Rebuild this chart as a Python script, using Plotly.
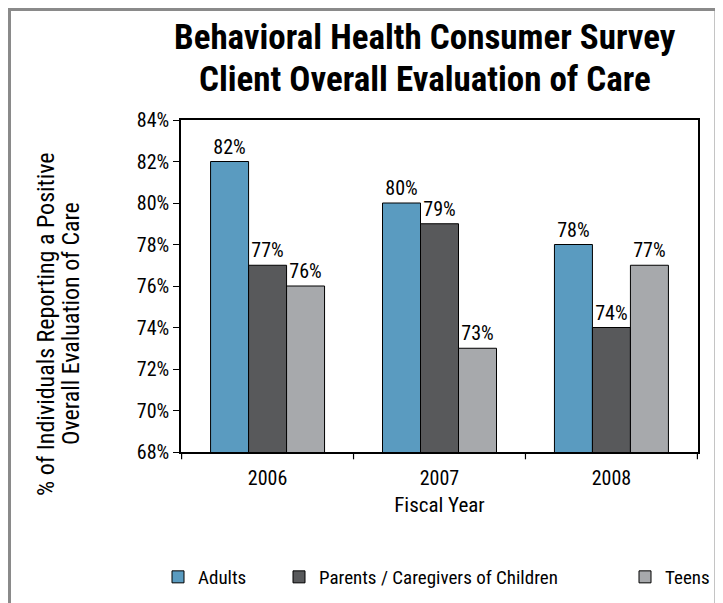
import plotly.graph_objects as go

years = ["2006", "2007", "2008"]
series_names = ["Adults", "Parents / Caregivers of Children", "Teens"]
adults = [82, 80, 78]
parents = [77, 79, 74]
teens = [76, 73, 77]
colors = ["#5A9BC0", "#58595B", "#A7A9AC"]
y_ticks = [68, 70, 72, 74, 76, 78, 80, 82, 84]
y_tick_labels = [f"{v}%" for v in y_ticks]
title_lines = ["Behavioral Health Consumer Survey", "Client Overall Evaluation of Care"]
y_title_lines = ["% of Individuals Reporting a Positive", "Overall Evaluation of Care"]

FONT = "Roboto Condensed"
values = [adults, parents, teens]
legends = ["legend", "legend2", "legend3"]

fig = go.Figure()
for name, vals, col, lg in zip(series_names, values, colors, legends):
    fig.add_trace(go.Bar(
        x=years, y=vals, name=name,
        marker=dict(color=col, line=dict(color="#000000", width=1)),
        text=[f"{v}%" for v in vals], textposition="outside",
        textfont=dict(family=FONT, size=20, color="#000000"),
        cliponaxis=False, legend=lg,
    ))

W, H = 723, 603
L, R, T, B = 173, 33, 112, 159
pw, ph = W - L - R, H - T - B

def px_x(p):
    return (p - L) / pw

def px_y(p):
    return (H - B - p) / ph

leg_common = dict(orientation="h", yanchor="middle", xanchor="left",
                  xref="container", yref="container",
                  font=dict(family=FONT, size=19, color="#000000"),
                  bgcolor="rgba(0,0,0,0)", itemwidth=30)

fig.update_layout(
    width=W, height=H,
    margin=dict(l=L, r=R, t=T, b=B, autoexpand=False),
    paper_bgcolor="white", plot_bgcolor="white",
    barmode="group", bargap=0.337, bargroupgap=0,
    font=dict(family=FONT, color="#000000"),
    xaxis=dict(title=dict(text="Fiscal Year", font=dict(family=FONT, size=21), standoff=9),
               tickfont=dict(family=FONT, size=20), ticklabelstandoff=7,
               showline=True, linecolor="#000000", linewidth=1.5, mirror=True,
               ticks="", showgrid=False),
    yaxis=dict(range=[68, 84], tickvals=y_ticks, ticktext=y_tick_labels,
               tickfont=dict(family=FONT, size=20),
               showline=True, linecolor="#000000", linewidth=1.5, mirror=True,
               ticks="outside", ticklen=6, tickcolor="#000000", showgrid=False),
    legend=dict(x=150 / W, y=1 - 569 / H, **leg_common),
    legend2=dict(x=271 / W, y=1 - 569 / H, **leg_common),
    legend3=dict(x=617 / W, y=1 - 569 / H, **leg_common),
    showlegend=True,
)

# title lines
for txt, yc in zip(title_lines, [29.5, 71]):
    fig.add_annotation(text=f"<b>{txt}</b>", xref="paper", yref="paper",
                       x=px_x(417), y=px_y(yc), xanchor="center", yanchor="middle",
                       showarrow=False, font=dict(family=FONT, size=35, color="#000000"))

# category boundary ticks on x axis
for i in range(len(years) + 1):
    fig.add_shape(type="line", xref="x", yref="paper",
                  x0=i - 0.5, x1=i - 0.5, y0=0, y1=-0.022,
                  line=dict(color="#000000", width=1.2))

for txt, xc in zip(y_title_lines, [38, 63]):
    fig.add_annotation(text=txt, textangle=-90,
                       xref="paper", yref="paper", x=px_x(xc), y=px_y(316),
                       xanchor="center", yanchor="middle",
                       showarrow=False, font=dict(family=FONT, size=24, color="#000000"))

# outer gray frame
fig.add_shape(type="rect", xref="paper", yref="paper",
              x0=px_x(1.5), x1=px_x(708), y0=px_y(1.5), y1=px_y(640),
              line=dict(color="#8A8A8A", width=3), layer="below")

fig.write_html("out.html")
